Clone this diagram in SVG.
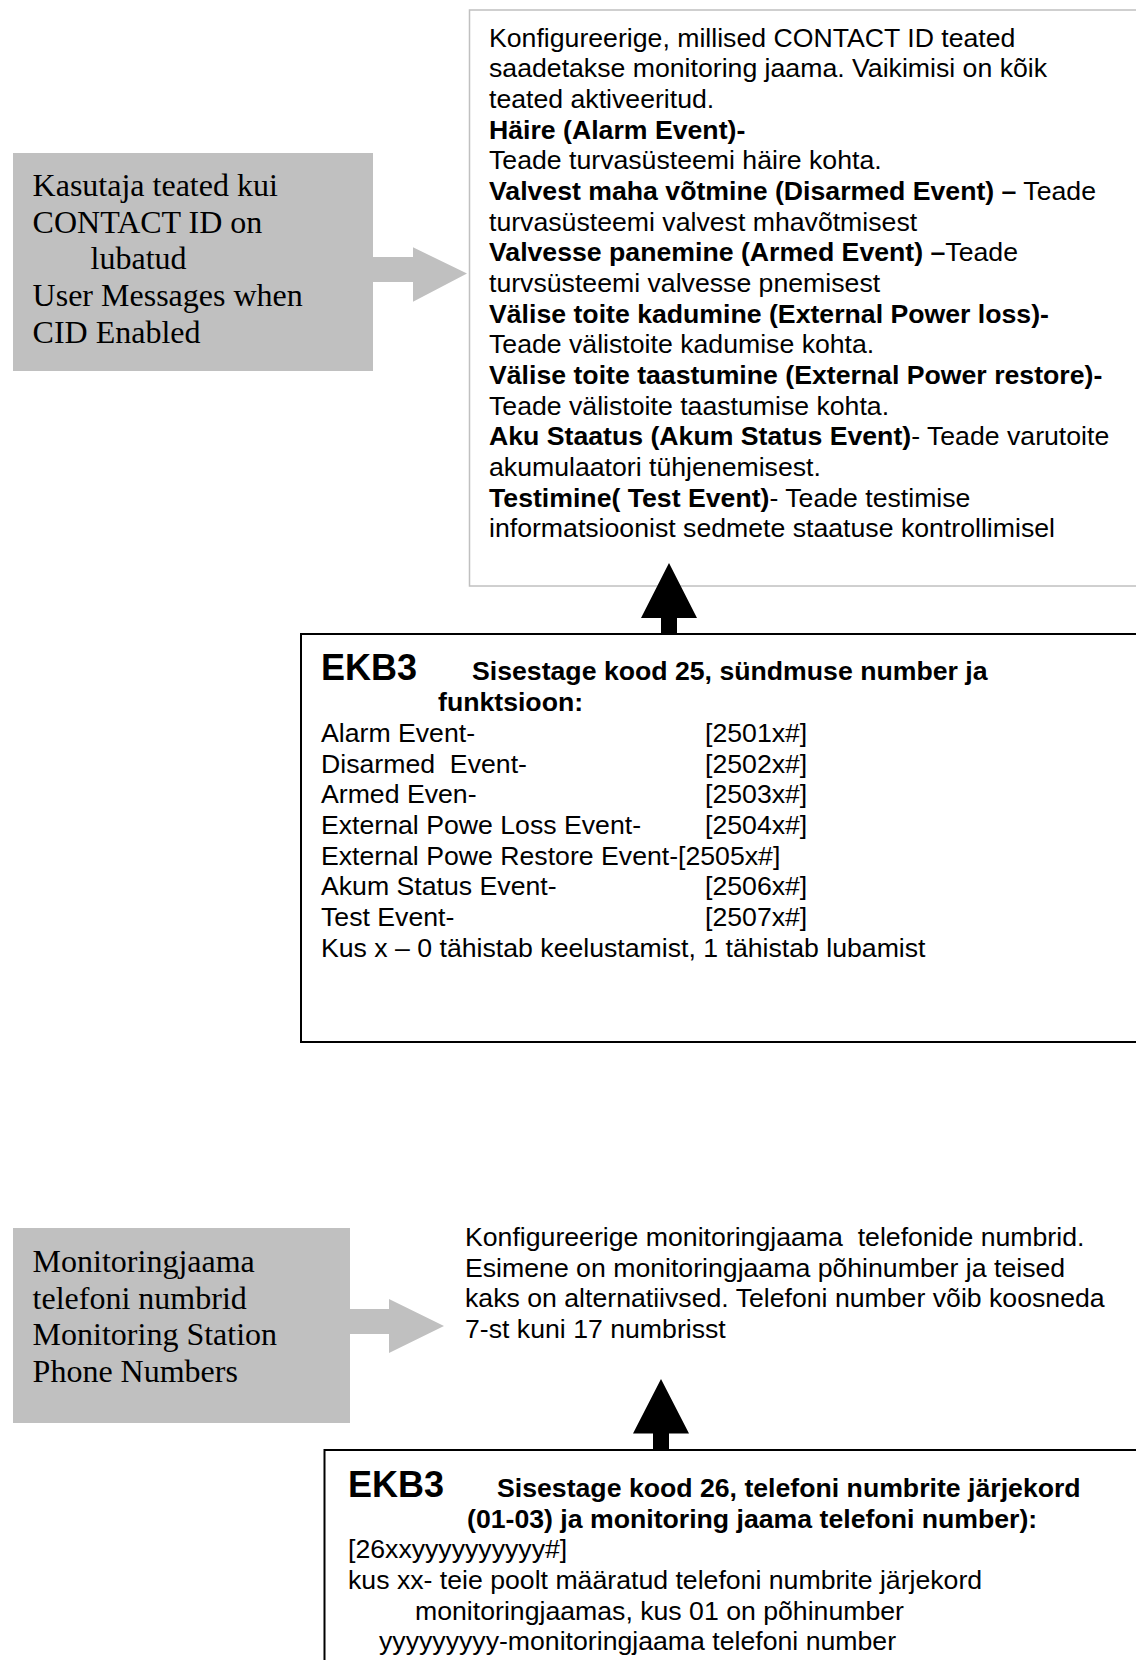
<svg xmlns="http://www.w3.org/2000/svg" width="1136" height="1660" viewBox="0 0 1136 1660">
  <style>
    .sans { font-family: "Liberation Sans", Arial, sans-serif; font-size: 26.67px; fill: #000; white-space: pre; }
    .b { font-weight: bold; }
    .big { font-size: 36px; font-weight: bold; }
    .serif { font-family: "Liberation Serif", "Times New Roman", serif; font-size: 32px; fill: #000; white-space: pre; }
    .label { fill: #c0c0c0; }
    .note { fill: #fff; stroke: #c0c0c0; stroke-width: 1.5; }
    .panel { fill: #fff; stroke: #000; stroke-width: 2; }
    .grey-arrow { fill: #c0c0c0; }
    .black-arrow { fill: #000; }
  </style>

  <rect width="1136" height="1660" fill="#fff"/>

  <!-- CONTACT ID messages: description note -->
  <g id="cid-description">
    <rect class="note" x="469.5" y="10" width="680" height="576"/>
    <text class="sans" x="489" y="46.5">Konfigureerige, millised CONTACT ID teated</text>
    <text class="sans" x="489" y="77.2">saadetakse monitoring jaama. Vaikimisi on kõik</text>
    <text class="sans" x="489" y="107.8">teated aktiveeritud.</text>
    <text class="sans b" x="489" y="138.5">Häire (Alarm Event)-</text>
    <text class="sans" x="489" y="169.2">Teade turvasüsteemi häire kohta.</text>
    <text class="sans" x="489" y="199.8"><tspan class="b">Valvest maha võtmine (Disarmed Event) –</tspan> Teade</text>
    <text class="sans" x="489" y="230.5">turvasüsteemi valvest mhavõtmisest</text>
    <text class="sans" x="489" y="261.2"><tspan class="b">Valvesse panemine (Armed Event) –</tspan>Teade</text>
    <text class="sans" x="489" y="291.8">turvsüsteemi valvesse pnemisest</text>
    <text class="sans b" x="489" y="322.5">Välise toite kadumine (External Power loss)-</text>
    <text class="sans" x="489" y="353.2">Teade välistoite kadumise kohta.</text>
    <text class="sans b" x="489" y="383.8">Välise toite taastumine (External Power restore)-</text>
    <text class="sans" x="489" y="414.5">Teade välistoite taastumise kohta.</text>
    <text class="sans" x="489" y="445.2"><tspan class="b">Aku Staatus (Akum Status Event)</tspan>- Teade varutoite</text>
    <text class="sans" x="489" y="475.8">akumulaatori tühjenemisest.</text>
    <text class="sans" x="489" y="506.5"><tspan class="b">Testimine( Test Event)</tspan>- Teade testimise</text>
    <text class="sans" x="489" y="537.2">informatsioonist sedmete staatuse kontrollimisel</text>
  </g>

  <!-- CONTACT ID messages: grey label -->
  <g id="cid-label">
    <rect class="label" x="13" y="153" width="360" height="218"/>
    <text class="serif" x="32.6" y="196">Kasutaja teated kui</text>
    <text class="serif" x="32.6" y="232.7">CONTACT ID on</text>
    <text class="serif" x="90.6" y="269.4">lubatud</text>
    <text class="serif" x="32.6" y="306.1">User Messages when</text>
    <text class="serif" x="32.6" y="342.8">CID Enabled</text>
  </g>

  <!-- CONTACT ID messages: keypad codes -->
  <g id="cid-codes">
    <rect class="panel" x="301" y="634" width="860" height="408"/>
    <text class="sans big" x="321" y="680">EKB3</text>
    <text class="sans b" x="472" y="680">Sisestage kood 25, sündmuse number ja</text>
    <text class="sans b" x="438" y="711">funktsioon:</text>
    <text class="sans" x="321" y="742">Alarm Event-</text>
    <text class="sans" x="705" y="742">[2501x#]</text>
    <text class="sans" x="321" y="772.7">Disarmed  Event-</text>
    <text class="sans" x="705" y="772.7">[2502x#]</text>
    <text class="sans" x="321" y="803.3">Armed Even-</text>
    <text class="sans" x="705" y="803.3">[2503x#]</text>
    <text class="sans" x="321" y="834">External Powe Loss Event-</text>
    <text class="sans" x="705" y="834">[2504x#]</text>
    <text class="sans" x="321" y="864.7">External Powe Restore Event-[2505x#]</text>
    <text class="sans" x="321" y="895.3">Akum Status Event-</text>
    <text class="sans" x="705" y="895.3">[2506x#]</text>
    <text class="sans" x="321" y="926">Test Event-</text>
    <text class="sans" x="705" y="926">[2507x#]</text>
    <text class="sans" x="321" y="956.7">Kus x – 0 tähistab keelustamist, 1 tähistab lubamist</text>
  </g>

  <!-- Monitoring station numbers: description -->
  <g id="phone-description">
    <text class="sans" x="465" y="1246">Konfigureerige monitoringjaama  telefonide numbrid.</text>
    <text class="sans" x="465" y="1276.7">Esimene on monitoringjaama põhinumber ja teised</text>
    <text class="sans" x="465" y="1307.3">kaks on alternatiivsed. Telefoni number võib koosneda</text>
    <text class="sans" x="465" y="1338">7-st kuni 17 numbrisst</text>
  </g>

  <!-- Monitoring station numbers: grey label -->
  <g id="phone-label">
    <rect class="label" x="13" y="1228" width="337" height="195"/>
    <text class="serif" x="32.6" y="1272">Monitoringjaama</text>
    <text class="serif" x="32.6" y="1308.7">telefoni numbrid</text>
    <text class="serif" x="32.6" y="1345.4">Monitoring Station</text>
    <text class="serif" x="32.6" y="1382">Phone Numbers</text>
  </g>

  <!-- Monitoring station numbers: keypad codes -->
  <g id="phone-codes">
    <rect class="panel" x="324.5" y="1450" width="840" height="240"/>
    <text class="sans big" x="348" y="1497">EKB3</text>
    <text class="sans b" x="497" y="1497">Sisestage kood 26, telefoni numbrite järjekord</text>
    <text class="sans b" x="467" y="1527.7">(01-03) ja monitoring jaama telefoni number):</text>
    <text class="sans" x="348" y="1558.3">[26xxyyyyyyyyyy#]</text>
    <text class="sans" x="348" y="1589">kus xx- teie poolt määratud telefoni numbrite järjekord</text>
    <text class="sans" x="415" y="1619.7">monitoringjaamas, kus 01 on põhinumber</text>
    <text class="sans" x="379" y="1650.3">yyyyyyyyy-monitoringjaama telefoni number</text>
  </g>

  <!-- Block arrows between the boxes -->
  <g id="connectors">
    <polygon class="grey-arrow" points="373,257 413,257 413,247.3 467,273.5 413,301.7 413,282 373,282"/>
    <polygon class="black-arrow" points="669,563 697,618 677,618 677,634 661,634 661,618 641,618"/>
    <polygon class="grey-arrow" points="350,1309 389,1309 389,1299 444,1326 389,1353 389,1334 350,1334"/>
    <polygon class="black-arrow" points="661,1379 689,1433.5 669,1433.5 669,1450 653,1450 653,1433.5 633,1433.5"/>
  </g>
</svg>
